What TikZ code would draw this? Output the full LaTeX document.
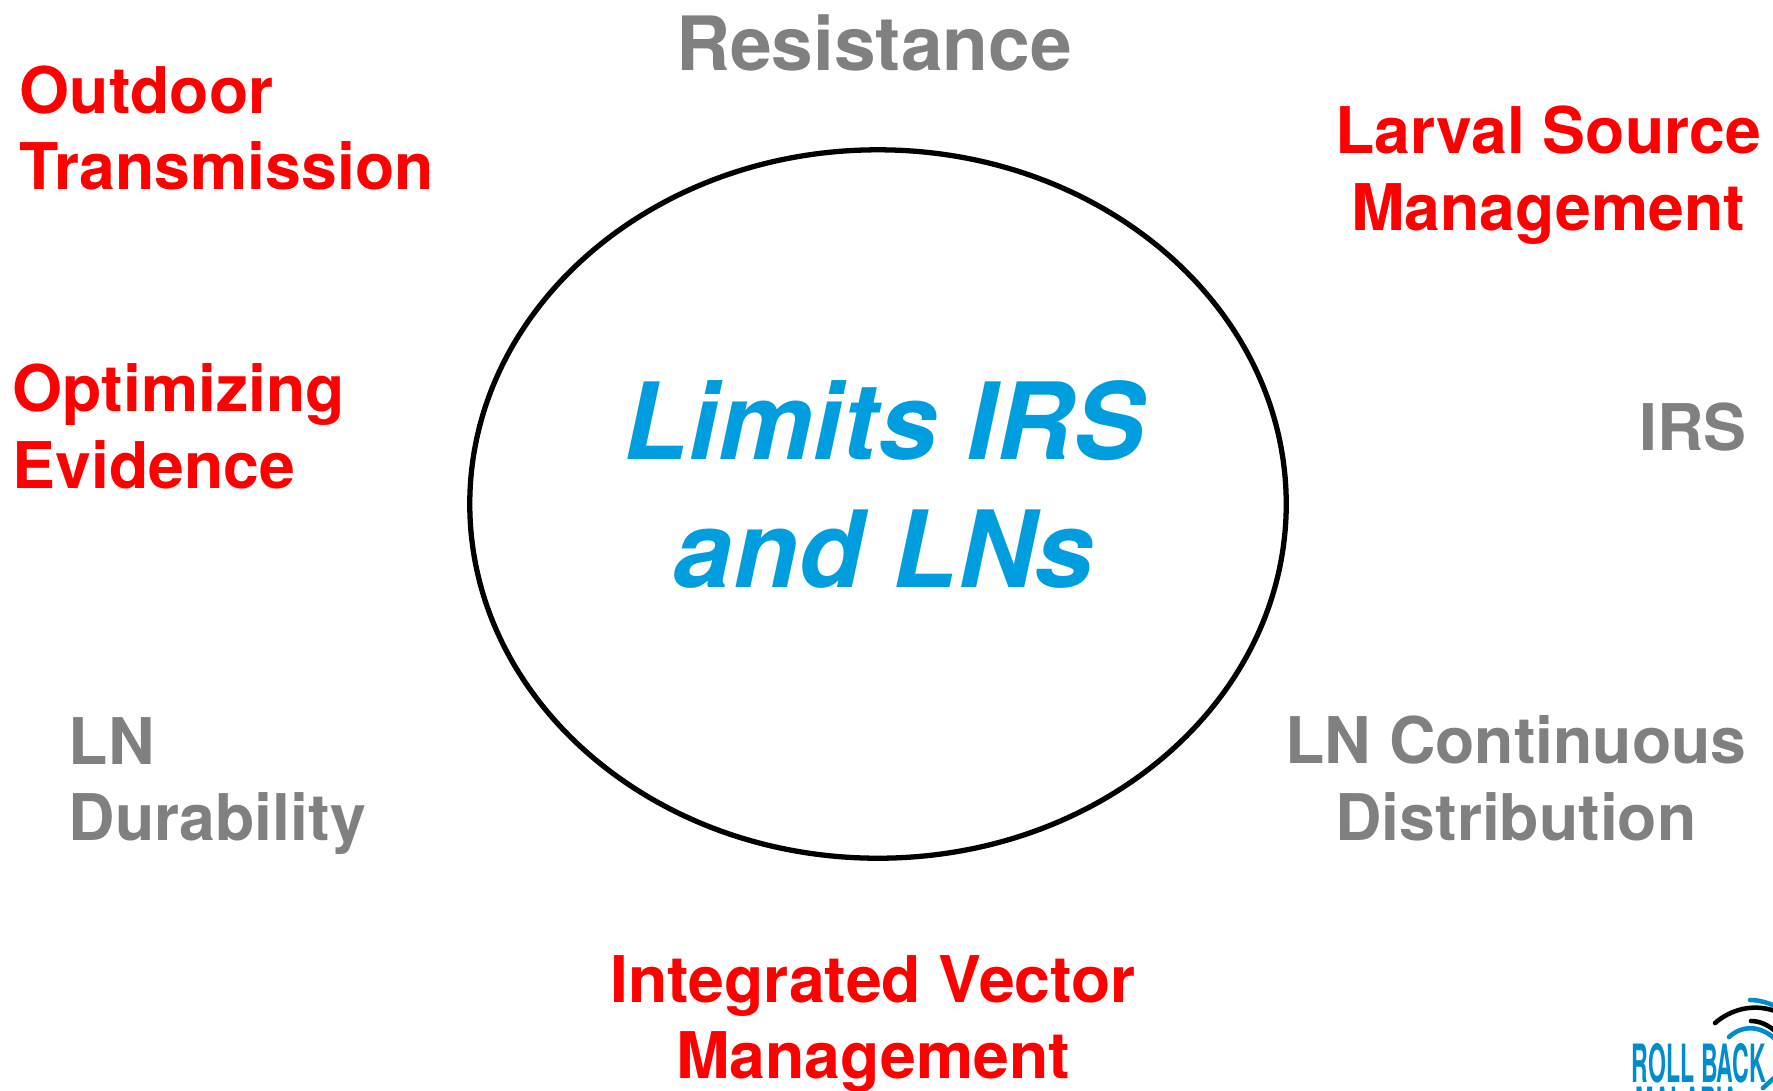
\documentclass[tikz,border=0pt]{standalone}
\usepackage{fontspec}
\setmainfont{TeX Gyre Heros}
\usepackage{tikz}
\usetikzlibrary{shapes.geometric}
\definecolor{lblue}{RGB}{0,158,222}
\definecolor{logoblue}{RGB}{0,140,205}
\definecolor{lgray}{RGB}{128,128,128}
\tikzset{
  label/.style={inner sep=0pt,font=\bfseries\fontsize{18.3}{21.8}\selectfont},
  redlabel/.style={label,text=red},
  graylabel/.style={label,text=lgray},
  logotext/.style={inner sep=0pt,text=logoblue,font=\bfseries\fontsize{15}{18}\selectfont},
  logoarc/.style={line width=1.3pt,line cap=round},
}

\begin{document}
\begin{tikzpicture}[x=0.01cm,y=-0.01cm]
    \useasboundingbox (0,0) rectangle (1773,1090);
    \clip (0,0) rectangle (1773,1090);
    \node [draw,ellipse,line width=1.5pt,inner sep=0pt,minimum width=8.16cm,minimum height=7.08cm] (circle) at (878,504) {};
    \node [align=center,text=lblue,inner sep=0pt,font=\bfseries\itshape\fontsize{30.3}{36.4}\selectfont] (limits) at (884,484) {
      Limits IRS\\and LNs
    };
    \node [graylabel,font=\bfseries\fontsize{21.3}{26}\selectfont] (resistance) at (874,43) {Resistance};
    \node [redlabel,align=left,anchor=west] (outdoor) at (19,128) {Outdoor\\Transmission};
    \node [redlabel,align=center] (larval) at (1548,175) {Larval Source\\Management};
    \node [redlabel,align=left,anchor=west] (optimizing) at (12,426) {Optimizing\\Evidence};
    \node [graylabel] (irs) at (1693,427) {IRS};
    \node [graylabel,align=left,anchor=west] (durability) at (68,786) {LN\\Durability};
    \node [graylabel,align=center] (continuous) at (1516,778) {LN Continuous\\Distribution};
    \node [redlabel,align=center] (integrated) at (873,1024) {Integrated Vector\\Management};
    % logo in the corner
    \node [logotext] (rollback) at (1699,1063) {\scalebox{0.437}[1]{ROLL BACK}};
    \node [logotext] (malaria) at (1687,1106) {\scalebox{0.42}[1]{MALARIA}};
    \draw [logoarc,logoblue] (1750,1000) .. controls (1758,1000) and (1766,1002) .. (1775,1006);
    \draw [logoarc,black] (1715,1023) .. controls (1730,1010) and (1752,1003) .. (1775,1011);
    \draw [logoarc,black] (1751,1021) .. controls (1760,1021) and (1768,1025) .. (1775,1031);
    \draw [logoarc,logoblue] (1729,1037) .. controls (1742,1025) and (1760,1025) .. (1775,1039);
    \draw [logoarc,logoblue] (1763,1088) -- (1775,1077);
\end{tikzpicture}
\end{document}
